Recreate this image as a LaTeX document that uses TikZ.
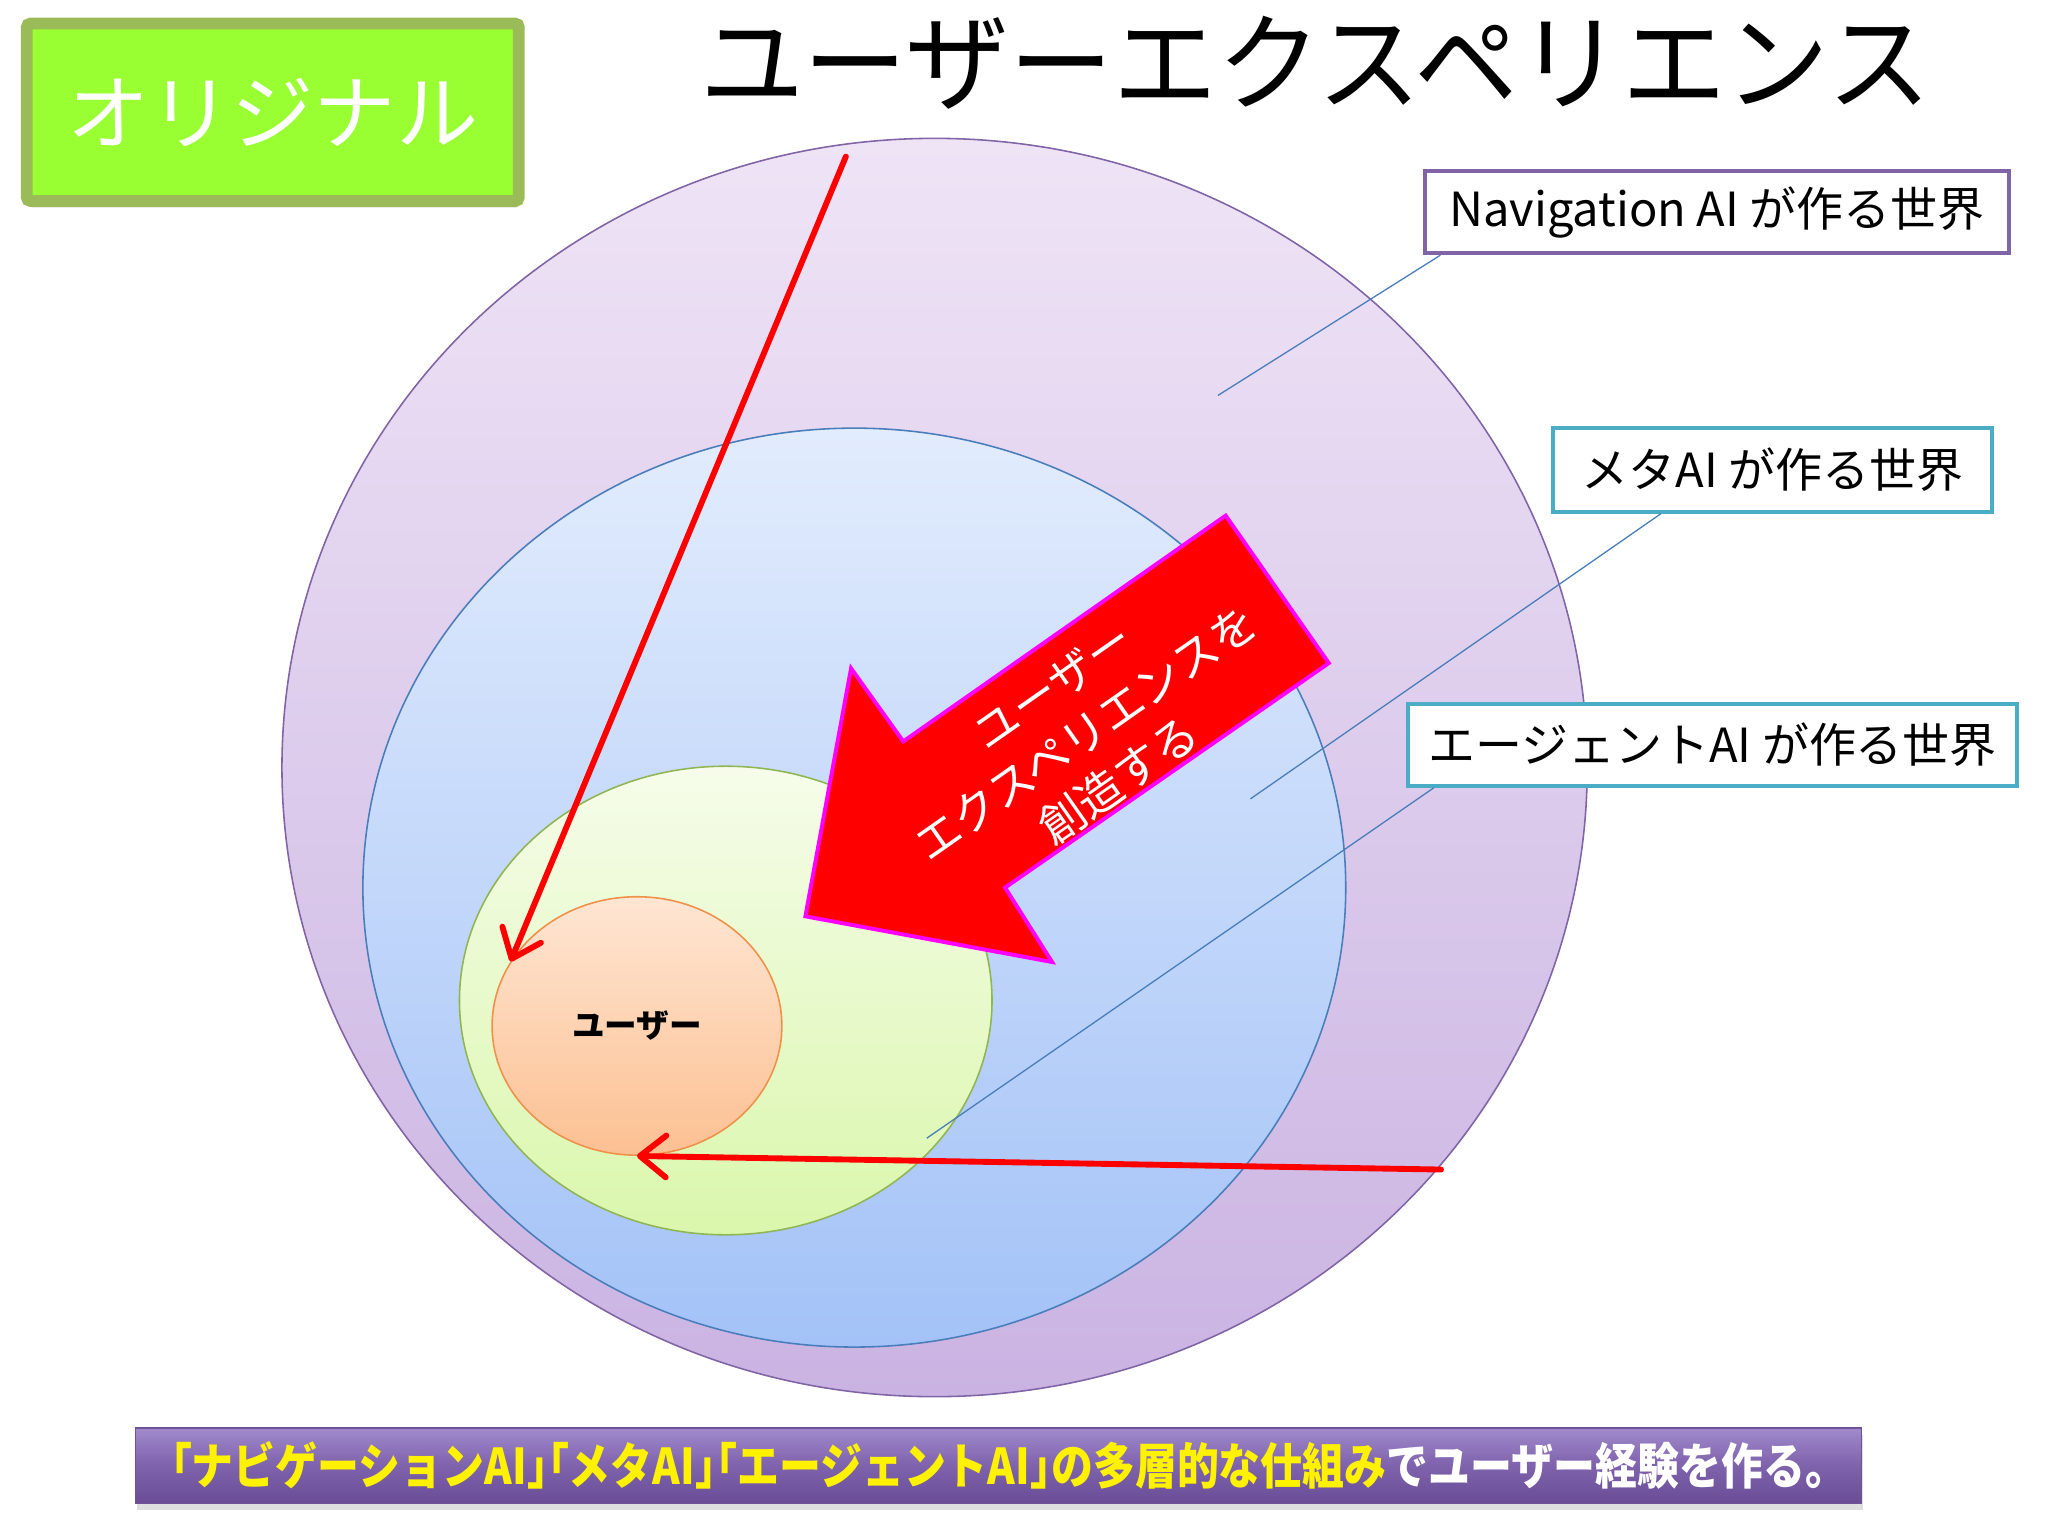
\documentclass[tikz,border=0pt]{standalone}
\usepackage{fontspec}
\setmainfont{Noto Sans CJK JP}
\newfontfamily\bannerfont{Noto Sans CJK JP}[CharacterWidth=AlternateHalf]
\usepackage{graphicx}
\usetikzlibrary{shapes.geometric,arrows.meta,shadows}

\definecolor{navborder}{RGB}{128,100,166}
\definecolor{metaborder}{RGB}{75,172,198}
\definecolor{leaderblue}{RGB}{74,126,187}
\definecolor{magentaedge}{RGB}{255,0,255}
\definecolor{limefill}{RGB}{153,255,51}
\definecolor{limeborder}{RGB}{155,187,89}

\tikzset{
  world/.style={ellipse, inner sep=0pt, line width=1.2pt},
  worldlabel/.style={draw, fill=white, line width=3pt, inner sep=0pt, font=\fontsize{36}{40}\selectfont},
  leader/.style={draw=leaderblue, line width=1pt},
  redarrow/.style={draw=red, line width=4.5pt, line cap=round, -{Straight Barb[length=20pt,width=32pt,round]}},
}

\begin{document}
\begin{tikzpicture}[x=1pt,y=1pt,yscale=-1,xscale=1]
\useasboundingbox (0,0) rectangle (1569,1177);

%Badge
\node [draw=limeborder, fill=limefill, line width=9pt, rounded corners=3pt, minimum width=377pt, minimum height=136pt,
  drop shadow={shadow xshift=1pt, shadow yshift=-5pt, opacity=0.25}, text=white, font=\fontsize{63}{70}\selectfont] (badge) at (209,86) {オリジナル};
%Title
\node [font=\fontsize{82}{90}\selectfont] (title) at (1008,48) {\scalebox{0.97}[1]{ユーザーエクスペリエンス}};

%Worlds
\node [world, draw=navborder, top color={rgb,255:red,239;green,228;blue,246}, bottom color={rgb,255:red,202;green,179;blue,226},
  minimum width=1000pt, minimum height=964pt] (navworld) at (716,588) {};
\node [world, draw=leaderblue, top color={rgb,255:red,226;green,236;blue,253}, bottom color={rgb,255:red,163;green,194;blue,247},
  minimum width=753pt, minimum height=704pt] (metaworld) at (654.5,680) {};
\node [world, draw={rgb,255:red,143;green,182;blue,83}, top color={rgb,255:red,246;green,252;blue,234}, bottom color={rgb,255:red,218;green,247;blue,172},
  minimum width=408pt, minimum height=359pt] (agentworld) at (556,766.5) {};
\node [world, draw={rgb,255:red,240;green,144;blue,74}, top color={rgb,255:red,254;green,230;blue,211}, bottom color={rgb,255:red,252;green,192;blue,146},
  minimum width=222pt, minimum height=198pt, font=\bfseries\fontsize{25}{28}\selectfont] (user) at (488,786) {ユーザー};

%Block Arrow
\draw [draw=magentaedge, fill=red, line width=3pt, line join=miter]
  (939,395) -- (1018,508) -- (770,680) -- (806,737) -- (617,702) -- (652,512) -- (692,568) -- cycle;
\node [rotate=35, text=white, align=center, font=\fontsize{35}{44}\selectfont] (create) at (832,562)
  {ユーザー\\エクスペリエンスを\\創造する};

%Labels
\node [worldlabel, draw=navborder, minimum width=447pt, minimum height=63pt] (navlabel) at (1315.5,162.5) {Navigation AI が作る世界};
\node [worldlabel, draw=metaborder, minimum width=336pt, minimum height=64pt] (metalabel) at (1358,360) {メタAI が作る世界};
\node [worldlabel, draw=metaborder, minimum width=466pt, minimum height=63pt] (agentlabel) at (1312,570.5) {エージェントAI が作る世界};

%Straight Lines
\coordinate (navpt) at (933,303);
\coordinate (metapt) at (958,612);
\coordinate (agentpt) at (710,872);
\draw [leader] ([xshift=13pt]navlabel.south west) -- (navpt);
\draw [leader] ([xshift=84pt]metalabel.south west) -- (metapt);
\draw [leader] ([xshift=21pt]agentlabel.south west) -- (agentpt);

%Red Arrows
\coordinate (topstart) at (648,120);
\coordinate (sidestart) at (1104,896);
\draw [redarrow] (topstart) -- (user.153);
\draw [redarrow] (sidestart) -- (user.south);

%Banner
\node [draw={rgb,255:red,110;green,84;blue,150}, line width=1pt, minimum width=1322pt, minimum height=58pt, inner sep=0pt,
  top color={rgb,255:red,160;green,138;blue,204}, bottom color={rgb,255:red,106;green,76;blue,150}, middle color={rgb,255:red,126;green,98;blue,172},
  drop shadow={shadow xshift=1pt, shadow yshift=-5pt, opacity=0.25}, font=\bannerfont\bfseries\fontsize{36}{40}\selectfont] (banner) at (765,1123)
  {\resizebox{1268pt}{!}{\scalebox{0.85}[1]{\color{yellow}「ナビゲーションAI」「メタAI」「エージェントAI」の多層的な仕組み\color{white}でユーザー経験を作る。}}};

\end{tikzpicture}
\end{document}
